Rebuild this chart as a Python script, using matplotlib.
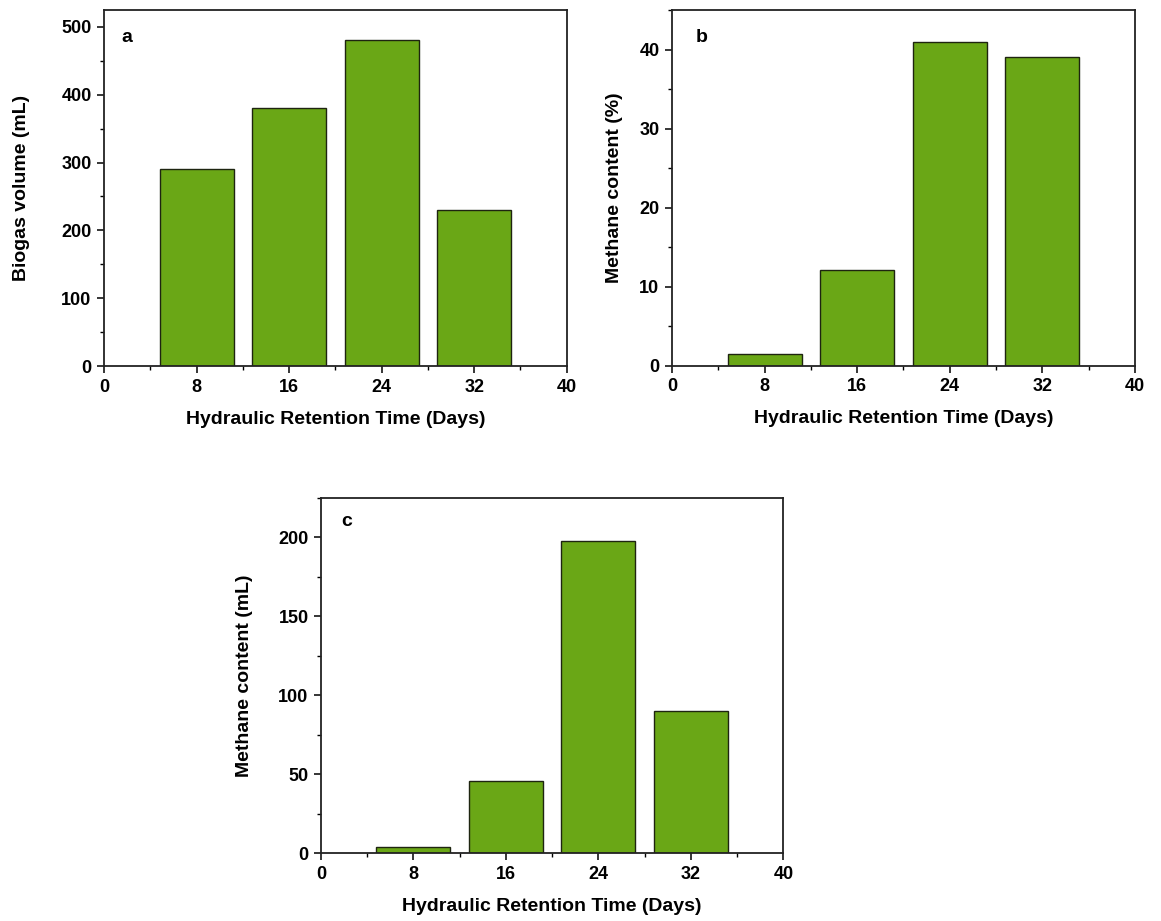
import matplotlib
matplotlib.use("Agg")
import matplotlib.pyplot as plt
from matplotlib.ticker import MultipleLocator

plt.rcParams['font.family'] = ['Liberation Sans', 'DejaVu Sans']
plt.rcParams['font.weight'] = 'bold'

hrt_days = [8, 16, 24, 32]
biogas_ml = [290, 380, 481, 230]
methane_pct = [1.4, 12.1, 41, 39]
methane_ml = [4.3, 46, 197.5, 90]

BAR_COLOR = '#6aa716'
EDGE_COLOR = '#1e2410'
XLABEL = "Hydraulic Retention Time (Days)"


def draw_panel(ax, values, ylim, ymajor, yminor, letter, letter_xy, ylabel, ylabel_x):
    ax.bar(hrt_days, values, width=6.4, color=BAR_COLOR, edgecolor=EDGE_COLOR, linewidth=1.0)
    ax.set_xlim(0, 40)
    ax.set_ylim(*ylim)
    ax.xaxis.set_major_locator(MultipleLocator(8))
    ax.xaxis.set_minor_locator(MultipleLocator(4))
    ax.yaxis.set_major_locator(MultipleLocator(ymajor))
    ax.yaxis.set_minor_locator(MultipleLocator(yminor))
    ax.tick_params(which='major', direction='out', length=5, width=1.1, pad=4,
                   labelsize=13, top=False, right=False)
    ax.tick_params(which='minor', direction='out', length=3, width=1.0,
                   top=False, right=False)
    for s in ax.spines.values():
        s.set_linewidth(1.3)
        s.set_color('#222222')
    for lab in ax.get_xticklabels() + ax.get_yticklabels():
        lab.set_fontweight('bold')
    ax.set_xlabel(XLABEL, fontsize=14, fontweight='bold', labelpad=11)
    ax.set_ylabel(ylabel, fontsize=14, fontweight='bold')
    ax.yaxis.set_label_coords(ylabel_x, 0.5)
    ax.text(letter_xy[0], letter_xy[1], letter, transform=ax.transAxes, fontsize=14,
            fontweight='bold', ha='center', va='center')


fig = plt.figure(figsize=(11.61, 9.21), dpi=100)

ax1 = fig.add_axes([0.0896, 0.6026, 0.3985, 0.3865])
draw_panel(ax1, biogas_ml, (0, 525), 100, 50, 'a', (0.049, 0.923),
           "Biogas volume (mL)", -0.16)

ax2 = fig.add_axes([0.5788, 0.6031, 0.3988, 0.3860])
draw_panel(ax2, methane_pct, (0, 45), 10, 5, 'b', (0.065, 0.923),
           "Methane content (%)", -0.106)

ax3 = fig.add_axes([0.2765, 0.0735, 0.3982, 0.3861])
draw_panel(ax3, methane_ml, (0, 225), 50, 25, 'c', (0.056, 0.933),
           "Methane content (mL)", -0.147)

fig.savefig("out.png", dpi=100)
